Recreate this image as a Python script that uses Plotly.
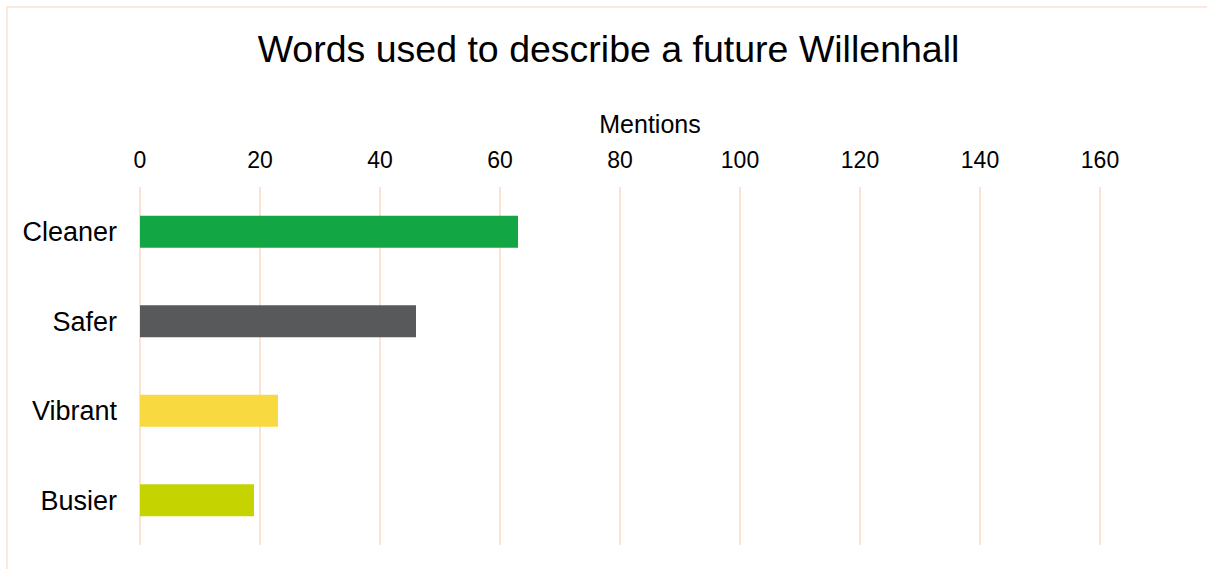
import plotly.graph_objects as go

# Survey results: words people used to describe a future Willenhall
words = ["Cleaner", "Safer", "Vibrant", "Busier"]
mentions = [63, 46, 23, 19]
bar_colors = ["#12A645", "#58595B", "#F8D93F", "#C5D300"]
tick_values = [0, 20, 40, 60, 80, 100, 120, 140, 160]

W, H = 1207, 569
left, right, top, bottom = 140, 47, 187, 24
grid_color = "#FCE2D3"

fig = go.Figure(
    go.Bar(
        x=mentions,
        y=words,
        orientation="h",
        marker=dict(color=bar_colors, line=dict(width=0)),
        width=0.357,
        hoverinfo="x+y",
    )
)

fig.update_layout(
    width=W,
    height=H,
    margin=dict(l=left, r=right, t=top, b=bottom),
    paper_bgcolor="white",
    plot_bgcolor="white",
    font=dict(family="Liberation Sans, Arial, sans-serif", color="#000000"),
    showlegend=False,
    title=dict(
        text="Words used to describe a future Willenhall",
        font=dict(size=37.5, color="#000000"),
        x=608.5 / W,
        xanchor="center",
        y=1 - 49 / H,
        yanchor="middle",
        xref="container",
        yref="container",
    ),
    xaxis=dict(
        side="top",
        range=[0, 170],
        tickvals=tick_values,
        ticktext=[str(v) for v in tick_values],
        tickfont=dict(size=23),
        showgrid=True,
        gridcolor=grid_color,
        gridwidth=2,
        zeroline=True,
        zerolinecolor=grid_color,
        zerolinewidth=2,
        showline=False,
        ticks="",
        ticklabelstandoff=13,
        title=dict(text="Mentions", font=dict(size=25), standoff=6),
        fixedrange=True,
    ),
    yaxis=dict(
        categoryorder="array",
        categoryarray=words,
        autorange="reversed",
        tickfont=dict(size=27),
        showgrid=False,
        zeroline=False,
        showline=False,
        ticks="",
        ticklabelstandoff=22,
        fixedrange=True,
    ),
    shapes=[
        # light outline of the chart area
        dict(
            type="rect",
            xref="paper",
            yref="paper",
            x0=(7 - left) / (W - left - right),
            x1=2,
            y0=-1,
            y1=(H - bottom - 7) / (H - top - bottom),
            line=dict(color=grid_color, width=1.5),
            layer="below",
        )
    ],
)

fig.write_html("out.html")
